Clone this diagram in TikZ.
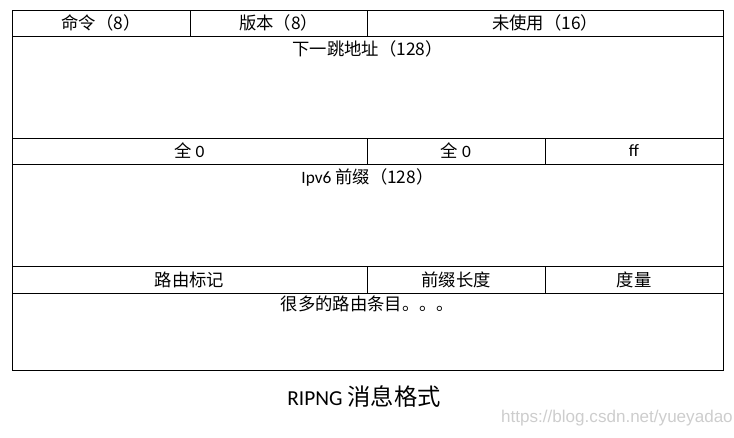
\documentclass[tikz,border=0pt]{standalone}
\usepackage{fontspec}
\setmainfont{Carlito}
\newfontfamily\cjk{Noto Sans CJK SC}
\newfontfamily\wmfont{Liberation Sans}
\newcommand\zh[1]{{\cjk #1}}
\definecolor{wmgray}{RGB}{205,205,205}
\begin{document}
\begin{tikzpicture}[x=0.75pt,y=-0.75pt,
  cell/.style={draw=black,line width=0.75pt},
  lbl/.style={font=\fontsize{13}{15}\selectfont, inner sep=0pt, anchor=center},
  ttl/.style={font=\fontsize{16}{18}\selectfont, inner sep=0pt, anchor=center},
  wm/.style={font=\wmfont\fontsize{12.8}{14}\selectfont, text=wmgray, inner sep=0pt, anchor=east}]
\useasboundingbox (0,0) rectangle (734,437);
% row 1
\draw[cell] (12,10) rectangle (190,36);
\draw[cell] (190,10) rectangle (367,36);
\draw[cell] (367,10) rectangle (723,36);
\node[lbl] (cmd) at (101,23) {\zh{命令（8）}};
\node[lbl] (ver) at (278.5,23) {\zh{版本（8）}};
\node[lbl] (unused) at (545,23) {\zh{未使用（16）}};
% row 2
\draw[cell] (12,36) rectangle (723,138);
\node[lbl] (nexthop) at (367.5,49) {\zh{下一跳地址（128）}};
% row 3
\draw[cell] (12,138) rectangle (367,164);
\draw[cell] (367,138) rectangle (545,164);
\draw[cell] (545,138) rectangle (723,164);
\node[lbl] (z1) at (189.5,151) {\zh{全} 0};
\node[lbl] (z2) at (456,151) {\zh{全} 0};
\node[lbl] (ff) at (634,151) {ff};
% row 4
\draw[cell] (12,164) rectangle (723,266);
\node[lbl] (prefix) at (367.5,177) {Ipv6 \zh{前缀（128）}};
% row 5
\draw[cell] (12,266) rectangle (367,293);
\draw[cell] (367,266) rectangle (545,293);
\draw[cell] (545,266) rectangle (723,293);
\node[lbl] (tag) at (189.5,279.5) {\zh{路由标记}};
\node[lbl] (plen) at (456,279.5) {\zh{前缀长度}};
\node[lbl] (metric) at (634,279.5) {\zh{度量}};
% row 6
\draw[cell] (12,293) rectangle (723,370);
\node[lbl] (entries) at (367.5,304) {\zh{很多的路由条目。。。}};
% title
\node[ttl] (title) at (364,397) {RIPNG {\cjk\fontsize{17.5}{19}\selectfont 消息格式}};
\node[wm] (mark) at (733,418) {https://blog.csdn.net/yueyadao};
\end{tikzpicture}
\end{document}
